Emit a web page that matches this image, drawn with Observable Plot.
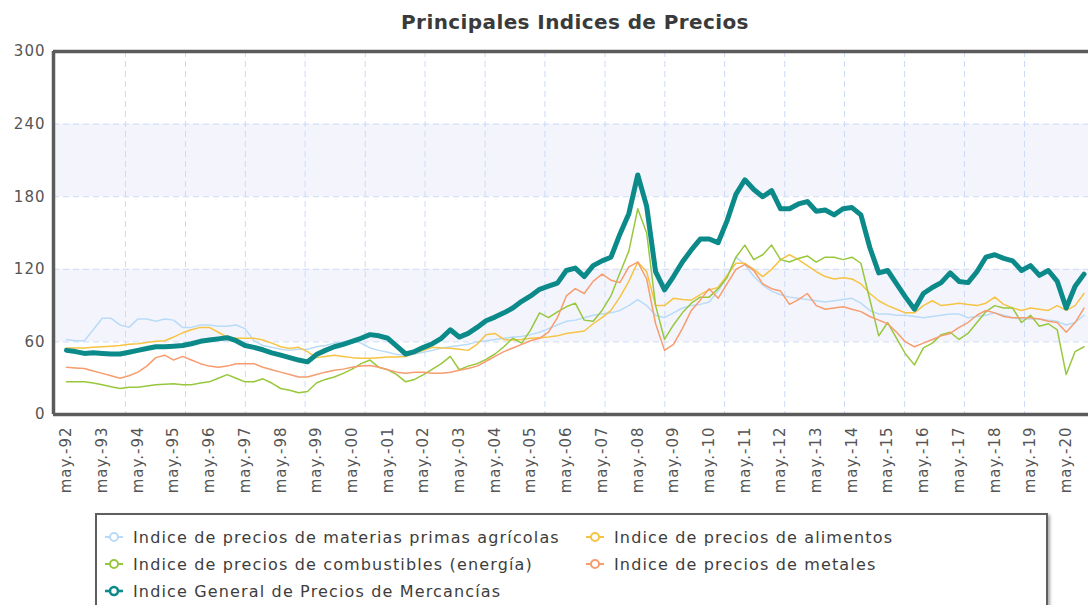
<!DOCTYPE html>
<html>
<head>
<meta charset="utf-8">
<script src="https://cdn.jsdelivr.net/npm/d3@7"></script>
<script src="https://cdn.jsdelivr.net/npm/@observablehq/plot@0.6"></script>
<style>
  html, body { margin: 0; padding: 0; background: #fff; }
  body { width: 1088px; height: 605px; overflow: hidden; position: relative; font-family: "DejaVu Sans", Verdana, sans-serif; }
  #title { position: absolute; left: 0; width: 1150px; top: 10px; text-align: center; font-size: 20px; font-weight: bold; color: #3a3a3a; letter-spacing: 0.4px; }
  #chart { position: absolute; left: 0; top: 0; }
  #chart svg text { letter-spacing: 1px; }
  #legend { position: absolute; left: 95px; top: 513px; width: 953px; height: 120px; border: 2px solid #5f5f5f; box-shadow: 2px 2px 3px rgba(0,0,0,0.35); background: #fff; box-sizing: border-box; }
  .item { position: absolute; display: flex; align-items: center; font-size: 16px; color: #3d3d3d; letter-spacing: 1.15px; white-space: nowrap; }
  .item svg { margin-right: 9px; }
</style>
</head>
<body>
<div id="title">Principales Indices de Precios</div>
<div id="chart"></div>
<div id="legend"></div>
<script>
// Month offsets from may-92 (quarterly samples)
const months = d3.range(0, 343, 3);

const tickLabels = ["may.-92","may.-93","may.-94","may.-95","may.-96","may.-97","may.-98","may.-99","may.-00","may.-01",
  "may.-02","may.-03","may.-04","may.-05","may.-06","may.-07","may.-08","may.-09","may.-10","may.-11",
  "may.-12","may.-13","may.-14","may.-15","may.-16","may.-17","may.-18","may.-19","may.-20"];
const yTicks = [0, 60, 120, 180, 240, 300];
const gridMonths = [19.8, 40.0, 60.1, 80.2, 100.4, 120.5, 140.7, 160.8, 181.0, 201.1, 221.2, 241.4, 261.5, 281.7, 301.8, 322.0];
const bandRanges = [[60, 120], [180, 240]];

const agricolas = [62,61,61,70,79.5,79.5,74,72,79,79,
  77,79,78,72,72,74,74,73,73,74,
  71,61,57,55.5,54,53,54,54,56,57,
  59,60,61,59,55,53,51.5,49.5,49,50,
  51.5,53,55,56,57,58,60,61,62,63,
  64,64.5,66,68,71,74,77,78,80,82,
  83,84,86,90,95,90,82,80,84,88,
  90,91,93,102,114,130,124,114,107,102,
  99,97,96,95,94,93,94,95,96,92,
  86,83,83,82,82,81,80,81,82,83,
  83,80,81,82,84,82,80,79,79,79,
  78,77,74,76,82];

const alimentos = [55,55,55,55.5,56,56.5,57,58,58.5,59.5,
  60.5,61,64,67.5,70,72,72,68,64,63,
  63,63,61.5,59,56,54.5,55.5,52,47,48,
  49,48,47,46.5,46.5,47,47.5,47.5,48,50.5,
  53,55.5,55,54.7,54,53,58,66,67,62,
  61.5,62,63,63.5,64,65,67,68,69,75,
  80,86,97,110,126,118,90,90,96,95,
  94.5,99,103,105,115,125,125,120,114,120,
  128,132,128,123,118,114,112,113,112,108,
  100,94,90,87,84,84,90,94,90,91,
  92,91,90,92,97,91,88,86,88,87,
  86,90,86,90,100];

const combustibles = [27,27,27,26,24.5,23,21.5,22.5,22.5,23.5,
  24.5,25,25.5,24.5,24.5,26,27,30,33,30,
  27,27,29.5,26,21.5,20,18,19,26,29,
  31,34,37.5,42,45,39,37,33,27,29,
  33,37.5,42,48,37,40,42,45.5,50,56,
  63,59,70,84,80,84.8,89,92,78,77,
  86,98,117,135,170,150,90,62,74,84,
  92,97,97,104,113,130,140,128,132,140,
  128,126,129,131,126,130,130,128,130,125,
  95,65,76,63,50,41,55,59,66,68,
  62,67,76,85,90,88,88,76,82,73,
  75,70,33,52,56];

const metales = [39,38.5,38,36,34,32,30,32,35,40,
  47,49,45,48,45,42,40,39,40,42,
  42,42,39,37,35,33,31,31,33,35,
  36.5,37.5,39,40,40.5,39,37,35,34,35,
  35,34,34,35,36.5,38,40,44,48,52,
  55,58,61,63,68,80,98,104,100,110,
  116,111,109,122,126,112,75,53,58,71,
  86,94.5,104,96,108,120,124,119,108,104,
  102,91,95,100,90,87,88,89,87,85,
  81,78,75,68,60,56,59,62,65,67,
  72,76,82,86,84,81,80,80,80,79,
  77,76,68,76,88];

const general = [53,52,50.5,51,50.5,50,50,51.5,53,54.5,
  56,56,56.5,57,58.5,60.5,61.5,62.5,63.5,61,
  57,55.5,53.5,51,49,47,45,43.5,49.5,53,
  56,58,60.5,63,66,65,63,56.5,50,52,
  55.5,58.5,63,70,64,67,72,77.5,80.5,84,
  88,93.5,98,103.5,106,108.6,119,121,114,123,
  127,130,149,166,198,172,118,103,114,126,
  136,145,145,142,160,182,194,186,180,185,
  170,170,174,176,168,169,165,170,171,165,
  138,117,119,108,97,87,100,105,109,117,
  110,109,118,130,132,129,127,119,123,115,
  119,110,88,106,116];

const seriesNames = [
  "Indice de precios de materias primas agrícolas",
  "Indice de precios de alimentos",
  "Indice de precios de combustibles (energía)",
  "Indice de precios de metales",
  "Indice General de Precios de Mercancías"
];
const seriesColors = ["#b9dbf7", "#f6c343", "#97c83c", "#f79c6e", "#0b8a89"];
const seriesValues = [agricolas, alimentos, combustibles, metales, general];
const seriesWidths = [1.5, 1.5, 1.5, 1.5, 5];

const xDomain = [-4.37, 343.5];
const frameColor = "#5b5b5b";
const gridColor = "#ccdaf6";

const lineMarks = seriesValues.map((vals, s) =>
  Plot.line(months.map((m, i) => ({m, v: vals[i]})), {
    x: "m", y: "v", stroke: seriesColors[s], strokeWidth: seriesWidths[s],
    strokeLinejoin: "round", strokeLinecap: "round"
  })
);

const chart = Plot.plot({
  width: 1088,
  height: 605,
  marginLeft: 53,
  marginRight: 0,
  marginTop: 51,
  marginBottom: 191,
  x: { type: "linear", domain: xDomain },
  y: { domain: [0, 300] },
  style: { fontFamily: "'DejaVu Sans', Verdana, sans-serif", background: "transparent", color: "#555" },
  marks: [
    Plot.rect(bandRanges, { x1: () => xDomain[0], x2: () => xDomain[1], y1: d => d[0], y2: d => d[1], fill: "#f4f5fc" }),
    Plot.ruleY([60, 120, 180, 240], { stroke: gridColor, strokeWidth: 1, strokeDasharray: "6,4" }),
    Plot.ruleX(gridMonths, { stroke: gridColor, strokeWidth: 1, strokeDasharray: "6,4" }),
    ...lineMarks,
    Plot.ruleY([0, 300], { stroke: frameColor, strokeWidth: 3.5 }),
    Plot.ruleX([xDomain[0]], { stroke: frameColor, strokeWidth: 3.5 }),
    Plot.axisY({ ticks: yTicks, tickSize: 0, tickPadding: 8, fontSize: 15, fill: "#555", label: null }),
    Plot.axisX({ ticks: tickLabels.map((_, i) => i * 12), tickFormat: d => tickLabels[Math.round(d / 12)],
      tickRotate: -90, tickSize: 0, tickPadding: 12, fontSize: 15, fill: "#555", label: null })
  ]
});
document.getElementById("chart").appendChild(chart);

// Legend
const legend = document.getElementById("legend");
const legendPos = [[0, 0], [1, 0], [0, 1], [1, 1], [0, 2]];
const colLeft = [7, 488];
const rowTop = [22, 49, 76];
seriesNames.forEach((name, s) => {
  const [c, r] = legendPos[s];
  const it = document.createElement("div");
  it.className = "item";
  it.style.left = colLeft[c] + "px";
  it.style.top = (rowTop[r] - 11) + "px";
  it.style.height = "22px";
  const w = s === 4 ? 2.6 : 2;
  it.innerHTML = `<svg width="20" height="14"><line x1="1" x2="19" y1="7" y2="7" stroke="${seriesColors[s]}" stroke-width="${w}"/><circle cx="10" cy="7" r="4" fill="#fff" stroke="${seriesColors[s]}" stroke-width="${w}"/></svg><span>${name}</span>`;
  legend.appendChild(it);
});
</script>
</body>
</html>
